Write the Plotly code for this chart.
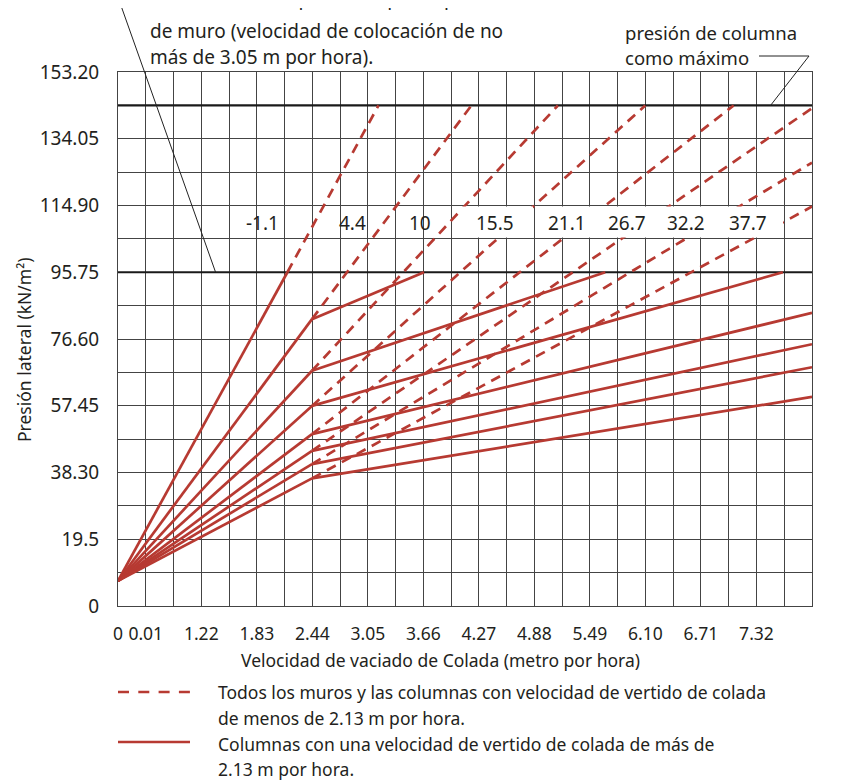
import plotly.graph_objects as go

# ---------------- data ----------------
temperatures = ["-1.1", "4.4", "10", "15.5", "21.1", "26.7", "32.2", "37.7"]
origin_rate = 0.0
origin_pressure = 7.2
# first (steep) solid segment of every curve
fan_end_rate = [1.86, 2.13, 2.13, 2.13, 2.13, 2.13, 2.13, 2.13]
fan_end_pressure = [95.75, 82.3, 67.5, 57.4, 49.3, 44.5, 40.7, 36.6]
# dashed continuation (walls / columns < 2.13 m per hour)
wall_end_rate = [2.86, 3.88, 4.83, 5.79, 6.76, 7.62, 7.62, 7.62]
wall_end_pressure = [143.6, 143.6, 143.6, 143.6, 143.6, 142.8, 127.2, 114.6]
# flatter solid segment (columns > 2.13 m per hour)
column_end_rate = [None, 3.36, 5.35, 7.30, 7.62, 7.62, 7.62, 7.62]
column_end_pressure = [None, 95.75, 95.75, 95.75, 84.1, 75.1, 68.5, 60.0]
# maximum pressure lines
limit_pressures = [95.75, 143.6]
# temperature label positions
label_rate = [1.59, 2.58, 3.32, 4.14, 4.93, 5.59, 6.24, 6.92]
label_pressure = 109.9

x_tickvals = [0, 0.3048, 0.9144, 1.524, 2.1336, 2.7432, 3.3528, 3.9624,
              4.572, 5.1816, 5.7912, 6.4008, 7.0104]
x_ticktext = ["0", "0.01", "1.22", "1.83", "2.44", "3.05", "3.66", "4.27",
              "4.88", "5.49", "6.10", "6.71", "7.32"]
y_tickvals = [0, 19.15, 38.30, 57.45, 76.60, 95.75, 114.90, 134.05, 153.20]
y_ticktext = ["0", "19.5", "38.30", "57.45", "76.60", "95.75", "114.90",
              "134.05", "153.20"]

X_MAX = 7.62
Y_MAX = 153.2

RED = "#b73a32"
TXT = "#231f20"
GRID = "#444444"
FONT = "Noto Sans"

# the page has an 8px body margin: the figure is shrunk by it
BODY = 8
FIG_W, FIG_H = 852 - BODY, 781 - BODY
# plot-area geometry in page pixels (for decorations only)
L, T, W, H = 118, 72, 694, 534


def px_x(px):
    return (px - L) / W


def px_y(py):
    return (T + H - py) / H


fig = go.Figure()

# limit lines
for p in limit_pressures:
    fig.add_trace(go.Scatter(x=[0, X_MAX], y=[p, p], mode="lines",
                             line=dict(color="#1a1a1a", width=2.2),
                             hoverinfo="skip", showlegend=False))

# dashed continuation lines
for i in range(len(temperatures)):
    fig.add_trace(go.Scatter(
        x=[fan_end_rate[i], wall_end_rate[i]],
        y=[fan_end_pressure[i], wall_end_pressure[i]],
        mode="lines", line=dict(color=RED, width=2.7, dash="10px,7px"),
        hoverinfo="skip", showlegend=False))

# solid lines
for i in range(len(temperatures)):
    fig.add_trace(go.Scatter(
        x=[origin_rate, fan_end_rate[i]],
        y=[origin_pressure, fan_end_pressure[i]],
        mode="lines", line=dict(color=RED, width=2.7),
        hoverinfo="skip", showlegend=False))
    if column_end_rate[i] is not None:
        fig.add_trace(go.Scatter(
            x=[fan_end_rate[i], column_end_rate[i]],
            y=[fan_end_pressure[i], column_end_pressure[i]],
            mode="lines", line=dict(color=RED, width=2.7),
            hoverinfo="skip", showlegend=False))

shapes = []
# white band behind the temperature labels (hides grid lines)
band = [(236, 310.5, "between"), (314, 394, "between"), (397, 460, "between"),
        (460, 533, "above"), (536, 783, "above")]
for x0, x1, layer in band:
    shapes.append(dict(type="rect", xref="paper", yref="paper",
                       x0=px_x(x0), x1=px_x(x1), y0=px_y(237.6), y1=px_y(206.4),
                       fillcolor="white", line=dict(width=0), layer=layer))

# leader lines
shapes.append(dict(type="line", xref="paper", yref="paper",
                   x0=px_x(119), y0=px_y(0), x1=px_x(215.5), y1=px_y(272),
                   line=dict(color="#222", width=1), layer="above"))
shapes.append(dict(type="line", xref="paper", yref="paper",
                   x0=px_x(759), y0=px_y(56), x1=px_x(809), y1=px_y(56),
                   line=dict(color="#222", width=1), layer="above"))
shapes.append(dict(type="line", xref="paper", yref="paper",
                   x0=px_x(809), y0=px_y(56), x1=px_x(770.5), y1=px_y(105.5),
                   line=dict(color="#222", width=1), layer="above"))

# legend samples
shapes.append(dict(type="line", xref="paper", yref="paper",
                   x0=px_x(118), y0=px_y(692), x1=px_x(190), y1=px_y(692),
                   line=dict(color=RED, width=2.7, dash="11px,9.3px")))
shapes.append(dict(type="line", xref="paper", yref="paper",
                   x0=px_x(118), y0=px_y(742), x1=px_x(190), y1=px_y(742),
                   line=dict(color=RED, width=2.7)))

# red page border at the right
shapes.append(dict(type="line", xref="paper", yref="paper",
                   x0=px_x(846.5), y0=px_y(0), x1=px_x(846.5), y1=px_y(781),
                   line=dict(color="#c8484a", width=1.6)))

annotations = []
for lab, r in zip(temperatures, label_rate):
    annotations.append(dict(x=r, y=label_pressure, xref="x", yref="y",
                            text=lab, showarrow=False,
                            font=dict(family=FONT, size=19, color=TXT)))


def text_at(px, py, s, size=18, anchor="left"):
    annotations.append(dict(x=px_x(px), y=px_y(py), xref="paper", yref="paper",
                            text=s, showarrow=False, xanchor=anchor,
                            yanchor="middle",
                            font=dict(family=FONT, size=size, color=TXT)))


# top-left note (first line clipped by the page edge, as in the reference)
text_at(148, -2, "Presión máxima para cualquier tipo", 19)
text_at(148, 31, "de muro (velocidad de colocación de no", 19)
text_at(148, 57, "más de 3.05 m por hora).", 19)
# top-right note
text_at(623, 33, "presión de columna", 18.5)
text_at(623, 57, "como máximo", 18.5)

# axis titles
text_at(440, 660, "Velocidad de vaciado de Colada (metro por hora)", 17.5, "center")
annotations.append(dict(x=px_x(24), y=px_y(350), xref="paper", yref="paper",
                        text="Presión lateral (kN/m²)", textangle=-90,
                        showarrow=False, xanchor="center", yanchor="middle",
                        font=dict(family=FONT, size=17.5, color=TXT)))

# legend text
text_at(216, 692, "Todos los muros y las columnas con velocidad de vertido de colada", 17.5)
text_at(216, 718, "de menos de 2.13 m por hora.", 17.5)
text_at(216, 744, "Columnas con una velocidad de vertido de colada de más de", 17.5)
text_at(216, 769, "2.13 m por hora.", 17.5)

fig.update_layout(
    width=FIG_W, height=FIG_H,
    margin=dict(l=L - BODY, r=FIG_W - (L - BODY) - W, t=T - BODY,
                b=FIG_H - (T - BODY) - H, pad=0),
    paper_bgcolor="white", plot_bgcolor="white",
    shapes=shapes, annotations=annotations,
    showlegend=False,
    font=dict(family=FONT, color=TXT),
)

fig.update_xaxes(
    range=[0, X_MAX], tickmode="array", tickvals=x_tickvals, ticktext=x_ticktext,
    showgrid=True, gridcolor=GRID, gridwidth=1,
    minor=dict(tick0=0, dtick=0.3048, showgrid=True, gridcolor=GRID, gridwidth=1),
    showline=True, mirror=True, linecolor=GRID, linewidth=1,
    zeroline=False, ticks="", ticklabelstandoff=12,
    tickfont=dict(family=FONT, size=17.5, color=TXT),
)
fig.update_yaxes(
    range=[0, Y_MAX], tickmode="array", tickvals=y_tickvals, ticktext=y_ticktext,
    showgrid=True, gridcolor=GRID, gridwidth=1,
    minor=dict(tick0=0, dtick=9.575, showgrid=True, gridcolor=GRID, gridwidth=1),
    showline=True, mirror=True, linecolor=GRID, linewidth=1,
    zeroline=False, ticks="", ticklabelstandoff=14,
    tickfont=dict(family=FONT, size=19, color=TXT),
)

fig.write_html("out.html")
